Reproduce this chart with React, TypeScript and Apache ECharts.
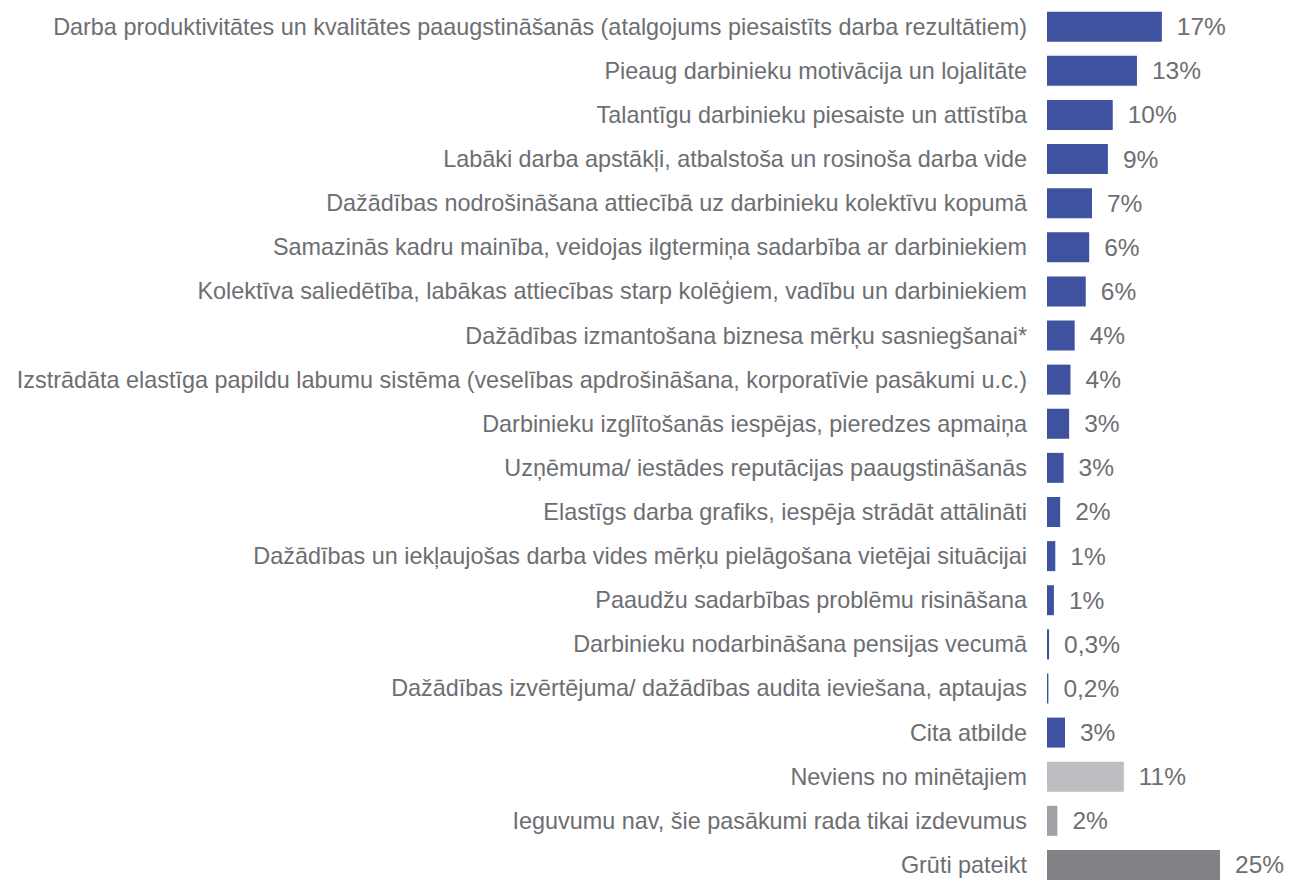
import React, { useEffect, useRef } from "react";
import * as echarts from "echarts";

const categories: string[] = [
  "Darba produktivitātes un kvalitātes paaugstināšanās (atalgojums piesaistīts darba rezultātiem)",
  "Pieaug darbinieku motivācija un lojalitāte",
  "Talantīgu darbinieku piesaiste un attīstība",
  "Labāki darba apstākļi, atbalstoša un rosinoša darba vide",
  "Dažādības nodrošināšana attiecībā uz darbinieku kolektīvu kopumā",
  "Samazinās kadru mainība, veidojas ilgtermiņa sadarbība ar darbiniekiem",
  "Kolektīva saliedētība, labākas attiecības starp kolēģiem, vadību un darbiniekiem",
  "Dažādības izmantošana biznesa mērķu sasniegšanai*",
  "Izstrādāta elastīga papildu labumu sistēma (veselības apdrošināšana, korporatīvie pasākumi u.c.)",
  "Darbinieku izglītošanās iespējas, pieredzes apmaiņa",
  "Uzņēmuma/ iestādes reputācijas paaugstināšanās",
  "Elastīgs darba grafiks, iespēja strādāt attālināti",
  "Dažādības un iekļaujošas darba vides mērķu pielāgošana vietējai situācijai",
  "Paaudžu sadarbības problēmu risināšana",
  "Darbinieku nodarbināšana pensijas vecumā",
  "Dažādības izvērtējuma/ dažādības audita ieviešana, aptaujas",
  "Cita atbilde",
  "Neviens no minētajiem",
  "Ieguvumu nav, šie pasākumi rada tikai izdevumus",
  "Grūti pateikt",
];

const values: number[] = [
  16.6, 13.0, 9.5, 8.8, 6.5, 6.1, 5.6, 4.0, 3.4, 3.2, 2.4, 1.9, 1.2, 1.0, 0.3, 0.2, 2.6, 11.1, 1.5, 25.0,
];

const valueLabels: string[] = [
  "17%", "13%", "10%", "9%", "7%", "6%", "6%", "4%", "4%", "3%", "3%", "2%", "1%", "1%", "0,3%", "0,2%", "3%", "11%", "2%", "25%",
];

const barColors: string[] = [
  "#3F529F", "#3F529F", "#3F529F", "#3F529F", "#3F529F", "#3F529F", "#3F529F", "#3F529F", "#3F529F", "#3F529F",
  "#3F529F", "#3F529F", "#3F529F", "#3F529F", "#3F529F", "#3F529F", "#3F529F", "#BDBEC1", "#A0A1A4", "#808285",
];

export default function App() {
  const ref = useRef<HTMLDivElement>(null);
  useEffect(() => {
    if (!ref.current) return;
    const chart = echarts.init(ref.current, null, { renderer: "svg" });
    const pxPerPct = 6.92;
    const xMax = 30;
    chart.setOption({
      animation: false,
      grid: { left: 1047, top: 4.6, width: xMax * pxPerPct, height: 894, containLabel: false },
      xAxis: {
        type: "value",
        min: 0,
        max: xMax,
        show: false,
      },
      yAxis: {
        type: "category",
        data: categories,
        inverse: true,
        axisLine: { show: false },
        axisTick: { show: false },
        splitLine: { show: false },
        axisLabel: {
          margin: 20,
          color: "#6D6E71",
          fontFamily: "Liberation Sans, Arial, sans-serif",
          fontSize: 23.4,
          interval: 0,
        },
      },
      series: [
        {
          type: "bar",
          barWidth: 30,
          data: values.map((v, i) => ({
            value: v,
            itemStyle: { color: barColors[i] },
            label: { formatter: valueLabels[i] },
          })),
          label: {
            show: true,
            position: "right",
            distance: 15,
            color: "#6D6E71",
            fontFamily: "Liberation Sans, Arial, sans-serif",
            fontSize: 24.5,
          },
        },
      ],
    });
    return () => chart.dispose();
  }, []);
  return (
    <div
      ref={ref}
      style={{ position: "absolute", left: 0, top: 0, width: 1289, height: 887, overflow: "hidden", background: "#fff" }}
    />
  );
}
